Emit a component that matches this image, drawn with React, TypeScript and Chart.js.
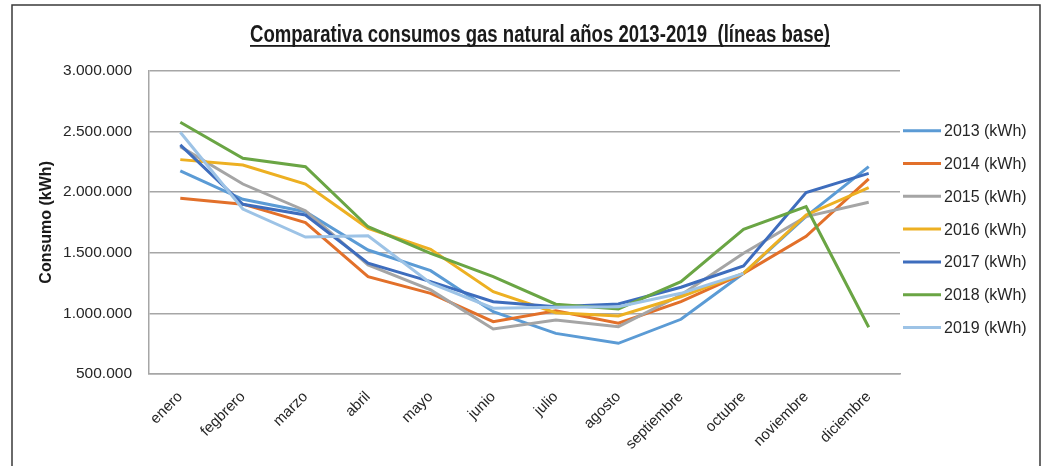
import { useEffect, useRef } from "react";
import { Chart, registerables } from "chart.js";

Chart.register(...registerables);

// Months on the category axis (spelling kept as in the source workbook)
const months = [
  "enero", "fegbrero", "marzo", "abril", "mayo", "junio",
  "julio", "agosto", "septiembre", "octubre", "noviembre", "diciembre",
];

// Monthly natural gas consumption, kWh
const consumo2013 = [2174000, 1940000, 1838000, 1522000, 1352000, 1014000, 835000, 753000, 951000, 1330000, 1800000, 2209000];
const consumo2014 = [1948000, 1900000, 1748000, 1302000, 1165000, 931000, 1022000, 918000, 1096000, 1330000, 1635000, 2108000];
const consumo2015 = [2374000, 2066000, 1846000, 1399000, 1193000, 871000, 945000, 890000, 1151000, 1495000, 1797000, 1916000];
const consumo2016 = [2267000, 2223000, 2066000, 1701000, 1528000, 1179000, 1005000, 978000, 1137000, 1330000, 1811000, 2036000];
const consumo2017 = [2388000, 1899000, 1811000, 1413000, 1261000, 1096000, 1055000, 1077000, 1215000, 1390000, 1995000, 2154000];
const consumo2018 = [2575000, 2278000, 2209000, 1714000, 1495000, 1302000, 1075000, 1036000, 1261000, 1693000, 1879000, 885000];
const consumo2019 = [2493000, 1860000, 1629000, 1640000, 1248000, 1042000, 1050000, 1055000, 1165000, 1330000, null, null];

const seriesLabels = ["2013 (kWh)", "2014 (kWh)", "2015 (kWh)", "2016 (kWh)", "2017 (kWh)", "2018 (kWh)", "2019 (kWh)"];
const seriesValues = [consumo2013, consumo2014, consumo2015, consumo2016, consumo2017, consumo2018, consumo2019];
const seriesColors = ["#5B9BD5", "#E2702A", "#A5A5A5", "#EDB022", "#3E6DBD", "#6AA544", "#9DC3E6"];

// Value axis range
const yMin = 500000;
const yMax = 3000000;
const yStep = 500000;

const chartTitle = "Comparativa consumos gas natural años 2013-2019  (líneas base)";
const yAxisTitle = "Consumo (kWh)";

const formatThousands = (v: number) =>
  Math.round(v).toString().replace(/\B(?=(\d{3})+(?!\d))/g, ".");

// White background plus the outer frame of the chart object
const framePlugin = {
  id: "frame",
  beforeDraw(chart: any) {
    const { ctx, width, height } = chart;
    ctx.save();
    ctx.fillStyle = "#ffffff";
    ctx.fillRect(0, 0, width, height);
    ctx.strokeStyle = "#3a3a3a";
    ctx.lineWidth = 1.5;
    ctx.beginPath();
    ctx.moveTo(12, height);
    ctx.lineTo(12, 5);
    ctx.lineTo(1040, 5);
    ctx.lineTo(1040, height);
    ctx.stroke();
    ctx.restore();
  },
};

// Underlined, condensed bold title
const titlePlugin = {
  id: "underlinedTitle",
  afterDraw(chart: any) {
    const { ctx } = chart;
    const cx = 540;
    const baseline = 42;
    const targetWidth = 580;
    ctx.save();
    ctx.font = 'bold 23px "Liberation Sans Narrow", "Liberation Sans", Arial, sans-serif';
    ctx.fillStyle = "#1a1a1a";
    ctx.textBaseline = "alphabetic";
    ctx.textAlign = "left";
    const w = ctx.measureText(chartTitle).width;
    const sx = targetWidth / w;
    ctx.translate(cx - targetWidth / 2, baseline);
    ctx.scale(sx, 1);
    ctx.fillText(chartTitle, 0, 0);
    ctx.restore();
    ctx.save();
    ctx.fillStyle = "#1a1a1a";
    ctx.fillRect(cx - targetWidth / 2, 45, targetWidth, 1.8);
    ctx.restore();
  },
};

// Legend on the right: short line sample followed by the series name
const legendPlugin = {
  id: "sideLegend",
  afterDraw(chart: any) {
    const { ctx } = chart;
    const x0 = 903;
    const x1 = 941;
    const top = 130.7;
    const step = 32.8;
    ctx.save();
    ctx.font = '16px "Liberation Sans", Arial, sans-serif';
    ctx.textBaseline = "middle";
    ctx.textAlign = "left";
    chart.data.datasets.forEach((ds: any, i: number) => {
      const y = top + i * step;
      ctx.strokeStyle = ds.borderColor;
      ctx.lineWidth = 3;
      ctx.beginPath();
      ctx.moveTo(x0, y);
      ctx.lineTo(x1, y);
      ctx.stroke();
      ctx.fillStyle = "#262626";
      ctx.fillText(ds.label, x1 + 3, y + 1);
    });
    ctx.restore();
  },
};

export default function App() {
  const canvasRef = useRef<HTMLCanvasElement | null>(null);

  useEffect(() => {
    document.body.style.margin = "0";
    const canvas = canvasRef.current;
    if (!canvas) return;

    const chart = new Chart(canvas, {
      type: "line",
      data: {
        labels: months,
        datasets: seriesValues.map((values, i) => ({
          label: seriesLabels[i],
          data: values,
          borderColor: seriesColors[i],
          backgroundColor: seriesColors[i],
          borderWidth: 3,
          pointRadius: 0,
          pointHoverRadius: 0,
          tension: 0,
          fill: false,
          order: seriesValues.length - 1 - i,
        })),
      },
      options: {
        animation: false,
        responsive: false,
        devicePixelRatio: 1,
        layout: { padding: { left: 0, top: 70.7, right: 154, bottom: 0 } },
        plugins: {
          legend: { display: false },
          title: { display: false },
          tooltip: { enabled: false },
        },
        scales: {
          x: {
            type: "category",
            offset: true,
            grid: { display: false, drawTicks: false },
            border: { display: true, color: "#a6a6a6", width: 1.5 },
            ticks: {
              autoSkip: false,
              minRotation: 45,
              maxRotation: 45,
              padding: 14,
              color: "#262626",
              font: { family: '"Liberation Sans", Arial, sans-serif', size: 15 },
            },
            afterFit: (scale: any) => {
              scale.height = 92;
            },
          },
          y: {
            min: yMin,
            max: yMax,
            grid: { color: "#a6a6a6", lineWidth: 1.5, drawTicks: false },
            border: { display: true, color: "#a6a6a6", width: 1.5 },
            ticks: {
              stepSize: yStep,
              padding: 17,
              color: "#262626",
              font: { family: '"Liberation Sans", Arial, sans-serif', size: 15.5 },
              callback: (v: any) => formatThousands(Number(v)),
            },
            title: {
              display: true,
              text: yAxisTitle,
              color: "#1a1a1a",
              padding: { top: 37, bottom: 0 },
              font: { family: '"Liberation Sans", Arial, sans-serif', size: 16, weight: "bold" },
            },
            afterFit: (scale: any) => {
              scale.width = 149;
            },
          },
        },
      },
      plugins: [framePlugin, titlePlugin, legendPlugin],
    });

    return () => chart.destroy();
  }, []);

  return (
    <div style={{ width: 1054, height: 466, position: "relative" }}>
      <canvas ref={canvasRef} width={1054} height={466} style={{ width: 1054, height: 466, display: "block" }} />
    </div>
  );
}
